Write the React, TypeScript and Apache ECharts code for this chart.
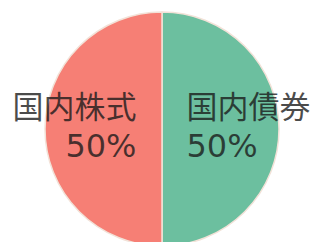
import React, { useEffect, useRef } from "react";
import * as echarts from "echarts";

const categories = ["国内債券", "国内株式"];
const values = [50, 50];
const colors = ["#6cbf9f", "#f67f75"];

export default function App() {
  const ref = useRef<HTMLDivElement>(null);
  useEffect(() => {
    if (!ref.current) return;
    const chart = echarts.init(ref.current, null, { renderer: "svg" });
    const data = categories.map((name, i) => ({
      name,
      value: values[i],
      itemStyle: { color: colors[i] },
      label: { offset: i === 0 ? [25, -4] : [-26, -4] },
    }));
    const nameStyle = {
      fontFamily: "Noto Sans CJK JP",
      fontSize: 31,
      lineHeight: 42,
      width: 124,
      color: "rgba(25,25,25,0.78)",
    };
    const pctStyle = {
      fontFamily: "DejaVu Sans",
      fontSize: 32,
      lineHeight: 42,
      width: 124,
      color: "rgba(25,25,25,0.78)",
    };
    chart.setOption({
      animation: false,
      backgroundColor: "#ffffff",
      series: [
        {
          type: "pie",
          center: [162, 129],
          radius: 117,
          startAngle: 90,
          clockwise: true,
          silent: true,
          avoidLabelOverlap: false,
          itemStyle: { borderColor: "#f2e2d8", borderWidth: 1.5 },
          label: {
            show: true,
            position: "inside",
            formatter: (p: any) =>
              p.dataIndex === 0
                ? `{nR|${p.name}}\n{pR|${p.percent}%}`
                : `{nL|${p.name}}\n{pL|${p.percent}%}`,
            rich: {
              nR: { ...nameStyle, align: "left" },
              pR: { ...pctStyle, align: "left" },
              nL: { ...nameStyle, align: "right" },
              pL: { ...pctStyle, align: "right" },
            },
          },
          labelLine: { show: false },
          labelLayout: { hideOverlap: false },
          data,
        },
      ],
    });
    return () => chart.dispose();
  }, []);
  return <div ref={ref} style={{ position: "fixed", left: 0, top: 0, width: 311, height: 242 }} />;
}
